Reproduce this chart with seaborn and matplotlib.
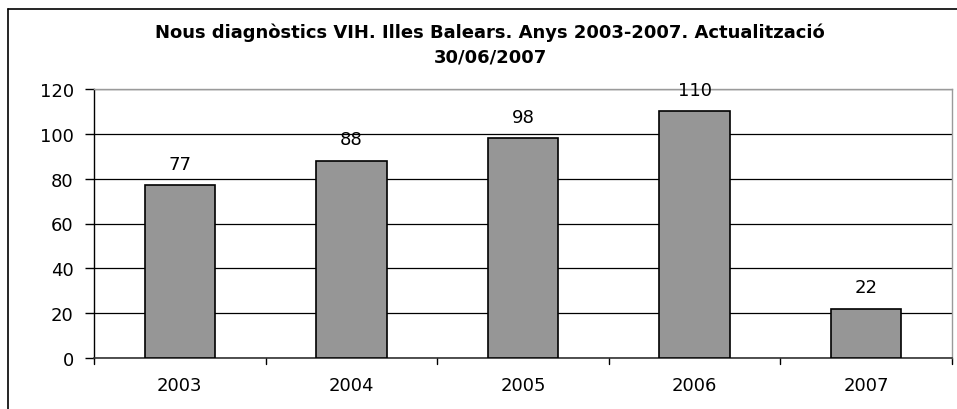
import matplotlib
matplotlib.use("Agg")
import matplotlib.pyplot as plt
import pandas as pd
import seaborn as sns
from matplotlib.lines import Line2D

# --- Data ---
years = ["2003", "2004", "2005", "2006", "2007"]
cases = [77, 88, 98, 110, 22]
y_ticks = [0, 20, 40, 60, 80, 100, 120]
title = "Nous diagnòstics VIH. Illes Balears. Anys 2003-2007. Actualització\n30/06/2007"

sns.set_theme(style="white")
# wide sans to mimic the stretched Arial of the original export
plt.rcParams["font.family"] = ["DejaVu Sans"]
plt.rcParams["text.color"] = "black"
plt.rcParams["xtick.color"] = "black"
plt.rcParams["ytick.color"] = "black"

df = pd.DataFrame({"year": years, "cases": cases})

fig = plt.figure(figsize=(9.57, 4.10), dpi=100)
ax = fig.add_axes([94 / 957, 1 - 359 / 410, (952 - 94) / 957, (359 - 90) / 410])

sns.barplot(
    data=df,
    x="year",
    y="cases",
    color="#969696",
    saturation=1,
    width=0.41,
    edgecolor="black",
    linewidth=1.2,
    ax=ax,
    zorder=3,
)

ax.set_ylim(0, 120)
ax.set_xlim(-0.5, len(years) - 0.5)
ax.set_yticks(y_ticks)
ax.set_yticklabels([str(t) for t in y_ticks], fontsize=13)
ax.set_xlabel("")
ax.set_ylabel("")
ax.tick_params(axis="x", labelsize=13, length=0, pad=13)
ax.tick_params(axis="y", length=6.5, width=1, color="black", direction="out", left=True, pad=8)

# Horizontal gridlines in black
ax.yaxis.grid(True, color="black", linewidth=0.9, zorder=0)
ax.set_axisbelow(True)

# Category boundary ticks under the x axis
for b in range(len(years) + 1):
    ax.plot([b - 0.5, b - 0.5], [0, -2.6], color="black", lw=1, clip_on=False)

for side in ["top", "right"]:
    ax.spines[side].set_color("#9a9a9a")
    ax.spines[side].set_linewidth(1)
ax.spines["left"].set_color("black")
ax.spines["bottom"].set_color("#333333")
ax.spines["left"].set_linewidth(1)
ax.spines["bottom"].set_linewidth(1.2)

# Value labels above bars
for i, v in enumerate(cases):
    ax.annotate(str(v), (i, v), xytext=(0, 9), textcoords="offset points",
                ha="center", va="bottom", fontsize=13, zorder=5)

fig.text(490 / 957, 1 - 45 / 410, title, ha="center", va="center",
         fontsize=13, fontweight="bold", linespacing=1.45)

# Outer chart frame (top and left edges visible)
fig.add_artist(Line2D([8 / 957, 1], [1 - 10 / 410, 1 - 10 / 410], color="black", lw=1.2))
fig.add_artist(Line2D([8 / 957, 8 / 957], [0, 1 - 10 / 410], color="black", lw=1.2))

fig.savefig("out.png", dpi=100, facecolor="white")
